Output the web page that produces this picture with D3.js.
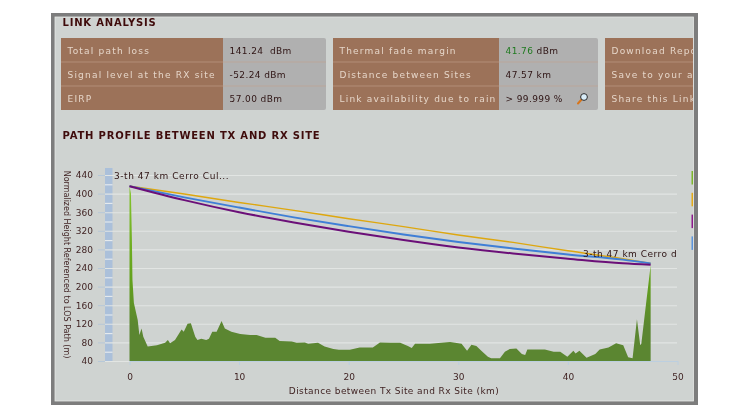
<!DOCTYPE html>
<html>
<head>
<meta charset="utf-8">
<script src="https://cdn.jsdelivr.net/npm/d3@7"></script>
<style>
  html, body { margin: 0; padding: 0; background: #fff; }
  svg { display: block; filter: blur( 0.35px ); }
  text { font-family: "DejaVu Sans", Verdana, sans-serif; }
</style>
</head>
<body>
<svg id="chart" width="750" height="420"></svg>
<script>
// Ground profile.
const terrainKm = [ 0, 0.13, 0.22, 0.27, 0.4, 0.75, 0.9, 1.1, 1.26, 1.66, 2.0, 2.5, 3.25, 3.5, 3.7, 4.15, 4.75, 4.95, 5.3, 5.6, 6.0, 6.2, 6.55, 7.0, 7.25, 7.55, 7.95, 8.4, 8.7, 9.3, 10.1, 11.0, 11.6, 12.4, 13.3, 13.7, 14.8, 15.25, 16, 16.3, 17.2, 17.8, 18.6, 19.1, 20.1, 21, 22.2, 22.85, 23.8, 24.7, 25.4, 25.75, 26.05, 27.4, 29.25, 30.3, 30.8, 31.2, 31.65, 32.1, 32.7, 33, 33.8, 34.25, 34.7, 35.3, 35.8, 36.1, 36.3, 37.9, 38.7, 39.3, 39.95, 40.5, 40.7, 41.05, 41.7, 42.5, 42.9, 43.7, 44.4, 45.05, 45.5, 45.9, 46.3, 46.6, 46.7, 46.95, 47.1, 47.55 ];
const terrainM  = [ 416, 400, 300, 214, 165, 128, 96, 110, 92, 71, 72, 74, 79, 85, 78, 85, 108, 103, 120, 121, 92, 85, 88, 85, 88, 103, 103, 126, 110, 103, 98, 96, 96, 90, 90, 83, 82, 79, 80, 77, 79, 71, 66, 64, 64, 69, 69, 80, 79, 79, 72, 68, 77, 77, 81, 77, 62, 75, 72, 62, 49, 46, 46, 60, 66, 67, 55, 53, 65, 65, 60, 60, 49, 62, 56, 62, 47, 55, 65, 69, 78, 74, 48, 46, 130, 74, 77, 127, 157, 246 ];

// Radio path lines.
const lineKm    = [ 0, 5, 10, 15, 20, 25, 30, 35, 40, 45, 47.55 ];
const lineOfSight = [ 416, 399, 381, 364, 346, 329, 311, 295, 277, 260, 250 ];
const fresnelOne  = [ 416, 392, 370, 349, 330, 312, 296, 282, 269, 258, 250 ];
const fresnelTwo  = [ 416, 386, 360, 338, 318, 300, 284, 271, 260, 250, 247 ];

// Axis ticks.
const xTicks = [ 0, 10, 20, 30, 40, 50 ];
const yTicks = [ 40, 80, 120, 160, 200, 240, 280, 320, 360, 400, 440 ];
const yMinorTicks = [ 60, 100, 140, 180, 220, 260, 300, 340, 380, 420 ];

// The three boxes above the chart.
const box1Labels = [ 'Total path loss', 'Signal level at the RX site', 'EIRP' ];
const box1Values = [ '141.24  dBm', '-52.24 dBm', '57.00 dBm' ];
const box2Labels = [ 'Thermal fade margin', 'Distance between Sites', 'Link availability due to rain' ];
const box2Values = [ ' dBm', '47.57 km', '> 99.999 %' ];
const box3Labels = [ 'Download Report', 'Save to your account', 'Share this Link' ];
const legendColors = [ '#7db52c', '#e3a916', '#8c1a8c', '#5b93dc' ];

const svg = d3.select( '#chart' );
const textColor = '#3d1f1f';

// Frame of the screenshot.
svg.append( 'rect' ).attr( 'x', 51 ).attr( 'y', 13 ).attr( 'width', 647 ).attr( 'height', 392 ).attr( 'fill', '#7d7d7d' );
svg.append( 'rect' ).attr( 'x', 55 ).attr( 'y', 17 ).attr( 'width', 638.5 ).attr( 'height', 384 ).attr( 'fill', '#cfd3d1' ).attr( 'stroke', '#e6e9e7' ).attr( 'stroke-width', 0.8 );

svg.append( 'defs' ).append( 'clipPath' ).attr( 'id', 'inner' )
  .append( 'rect' ).attr( 'x', 55 ).attr( 'y', 17 ).attr( 'width', 638 ).attr( 'height', 384 );

const page = svg.append( 'g' ).attr( 'clip-path', 'url(#inner)' );

// Headings.
page.append( 'text' ).attr( 'x', 62.5 ).attr( 'y', 26 ).attr( 'font-size', 10 ).attr( 'font-weight', 'bold' )
  .attr( 'letter-spacing', 0.8 ).attr( 'fill', '#3f0b0b' ).text( 'LINK ANALYSIS' );
page.append( 'text' ).attr( 'x', 62.5 ).attr( 'y', 139 ).attr( 'font-size', 10 ).attr( 'font-weight', 'bold' )
  .attr( 'letter-spacing', 0.8 ).attr( 'fill', '#3f0b0b' ).text( 'PATH PROFILE BETWEEN TX AND RX SITE' );

// Draws one brown and grey box with its three rows.
function drawBox ( x, labelWidth, width, labels, values ) {
  const g = page.append( 'g' ).attr( 'transform', `translate( ${x}, 38 )` );
  const rowY = d3.scaleBand( ).domain( d3.range( labels.length ) ).range( [ 0, 72 ] );

  g.append( 'rect' ).attr( 'width', width ).attr( 'height', 72 ).attr( 'rx', 2 ).attr( 'fill', '#b0b0b0' );
  g.append( 'rect' ).attr( 'width', labelWidth ).attr( 'height', 72 ).attr( 'fill', '#9c7259' );

  g.selectAll( 'line.sep' ).data( [ 1, 2 ] ).enter( ).append( 'line' )
    .attr( 'class', 'sep' )
    .attr( 'x1', 0 ).attr( 'x2', width )
    .attr( 'y1', d => rowY( d ) ).attr( 'y2', d => rowY( d ) )
    .attr( 'stroke', '#c2a08c' ).attr( 'stroke-opacity', 0.6 );

  g.selectAll( 'text.label' ).data( labels ).enter( ).append( 'text' )
    .attr( 'class', 'label' )
    .attr( 'x', 6.5 )
    .attr( 'y', ( d, i ) => rowY( i ) + 16 )
    .attr( 'font-size', 9 )
    .attr( 'letter-spacing', 1.2 )
    .attr( 'fill', '#e6d6c9' )
    .text( d => d );

  if ( values ) {
    g.selectAll( 'text.value' ).data( values ).enter( ).append( 'text' )
      .attr( 'class', 'value' )
      .attr( 'x', labelWidth + 6.5 )
      .attr( 'y', ( d, i ) => rowY( i ) + 16 )
      .attr( 'font-size', 9 )
      .attr( 'letter-spacing', 0.4 )
      .attr( 'fill', '#2e1414' )
      .style( 'white-space', 'pre' )
      .text( d => d );
  }
  return g;
}

drawBox( 61, 162, 265, box1Labels, box1Values );
const box2 = drawBox( 333, 166, 265, box2Labels, box2Values );
drawBox( 605, 100, 100, box3Labels, null );

// The green margin figure goes in front of its unit.
box2.select( 'text.value' ).text( null ).call( t => {
  t.append( 'tspan' ).attr( 'fill', '#1f7a1f' ).text( '41.76' );
  t.append( 'tspan' ).text( ' dBm' );
} );

// Magnifier in the rain row.
const lens = box2.append( 'g' ).attr( 'transform', 'translate( 250, 60 )' );
lens.append( 'line' ).attr( 'x1', -1 ).attr( 'y1', 1 ).attr( 'x2', -5 ).attr( 'y2', 5.5 )
  .attr( 'stroke', '#d9751a' ).attr( 'stroke-width', 2 ).attr( 'stroke-linecap', 'round' );
lens.append( 'circle' ).attr( 'cx', 1 ).attr( 'cy', -1 ).attr( 'r', 3.4 )
  .attr( 'fill', '#d8ecf8' ).attr( 'stroke', '#2a2a2a' ).attr( 'stroke-width', 1 );

// Scales of the chart.
const x = d3.scaleLinear( ).domain( [ 0, 50 ] ).range( [ 129.5, 677.5 ] );
const y = d3.scaleLinear( ).domain( [ 40, 440 ] ).range( [ 361, 175 ] );

// Light blue band on the left of the plot.
page.append( 'rect' ).attr( 'x', 105 ).attr( 'y', 168 ).attr( 'width', 7.5 ).attr( 'height', 193 ).attr( 'fill', '#abc0da' );

// Grid lines and the short ticks on the left.
const grid = page.append( 'g' ).attr( 'transform', 'translate( 105, 0 )' )
  .call( d3.axisRight( y ).tickValues( yTicks ).tickSize( 572 ).tickFormat( '' ) );
grid.select( '.domain' ).remove( );
grid.selectAll( 'line' ).attr( 'stroke', '#e2e5e3' ).attr( 'stroke-width', 1.1 );

const minor = page.append( 'g' ).attr( 'transform', 'translate( 105, 0 )' )
  .call( d3.axisRight( y ).tickValues( yMinorTicks ).tickSize( 7.5 ).tickFormat( '' ) );
minor.select( '.domain' ).remove( );
minor.selectAll( 'line' ).attr( 'stroke', '#e8ecef' ).attr( 'stroke-width', 1.1 );

const yAxis = page.append( 'g' ).attr( 'transform', 'translate( 105, 0 )' )
  .call( d3.axisLeft( y ).tickValues( yTicks ).tickSize( 7 ).tickPadding( 5 ) );
yAxis.select( '.domain' ).remove( );
yAxis.selectAll( 'line' ).attr( 'stroke', '#b7c8d8' );
yAxis.selectAll( 'text' ).attr( 'font-size', 9 ).attr( 'font-family', '"DejaVu Sans"' ).attr( 'fill', textColor );

// Terrain.
const green = svg.select( 'defs' ).append( 'linearGradient' ).attr( 'id', 'ground' )
  .attr( 'gradientUnits', 'userSpaceOnUse' )
  .attr( 'x1', 0 ).attr( 'x2', 0 ).attr( 'y1', y( 416 ) ).attr( 'y2', y( 40 ) );
green.append( 'stop' ).attr( 'offset', 0 ).attr( 'stop-color', '#84c52c' );
green.append( 'stop' ).attr( 'offset', 0.55 ).attr( 'stop-color', '#62a01c' );
green.append( 'stop' ).attr( 'offset', 0.8 ).attr( 'stop-color', '#5b8631' );
green.append( 'stop' ).attr( 'offset', 1 ).attr( 'stop-color', '#5b8631' );

const terrain = terrainKm.map( ( km, i ) => [ km, terrainM[ i ] ] );
page.append( 'path' ).datum( terrain )
  .attr( 'fill', 'url(#ground)' )
  .attr( 'd', d3.area( ).x( d => x( d[ 0 ] ) ).y0( y( 40 ) ).y1( d => y( d[ 1 ] ) ) );

// X axis.
const xAxis = page.append( 'g' ).attr( 'transform', `translate( 0, ${y( 40 )} )` )
  .call( d3.axisBottom( x ).tickValues( xTicks ).tickSize( 4 ).tickPadding( 9 ).tickSizeOuter( 0 ) );
xAxis.select( '.domain' ).attr( 'stroke', '#bccfe0' );
xAxis.selectAll( 'line' ).attr( 'stroke', '#bccfe0' );
xAxis.selectAll( 'text' ).attr( 'font-size', 9 ).attr( 'font-family', '"DejaVu Sans"' ).attr( 'fill', textColor );

// Radio path lines.
const pathLine = d3.line( ).x( d => x( d[ 0 ] ) ).y( d => y( d[ 1 ] ) ).curve( d3.curveMonotoneX );
[ [ lineOfSight, '#dea70f', 1.4 ], [ fresnelOne, '#3f7fd6', 1.9 ], [ fresnelTwo, '#6b0f78', 2 ] ].forEach( ( [ values, color, width ] ) => {
  page.append( 'path' ).datum( lineKm.map( ( km, i ) => [ km, values[ i ] ] ) )
    .attr( 'fill', 'none' )
    .attr( 'stroke', color )
    .attr( 'stroke-width', width )
    .attr( 'd', pathLine );
} );

// Site labels.
page.append( 'text' ).attr( 'x', 114 ).attr( 'y', 179 ).attr( 'font-size', 9 ).attr( 'letter-spacing', 0.55 ).attr( 'fill', '#2e1414' ).text( '3-th 47 km Cerro Cul...' );
page.append( 'text' ).attr( 'x', 583 ).attr( 'y', 257 ).attr( 'font-size', 9 ).attr( 'letter-spacing', 0.5 ).attr( 'fill', '#2e1414' ).text( '3-th 47 km Cerro d' );

// Axis titles.
page.append( 'text' ).attr( 'x', 394 ).attr( 'y', 394 ).attr( 'text-anchor', 'middle' ).attr( 'font-size', 9 )
  .attr( 'letter-spacing', 0.42 ).attr( 'fill', textColor ).text( 'Distance between Tx Site and Rx Site (km)' );
page.append( 'text' ).attr( 'transform', 'translate( 63.5, 264.5 ) rotate( 90 )' ).attr( 'text-anchor', 'middle' ).attr( 'font-size', 8 )
  .attr( 'fill', textColor ).text( 'Normalized Height Referenced to LOS Path (m)' );

// What is left of the legend at the right edge.
page.selectAll( 'rect.legend' ).data( legendColors ).enter( ).append( 'rect' )
  .attr( 'class', 'legend' )
  .attr( 'x', 691.5 )
  .attr( 'y', ( d, i ) => 171 + i * 21.8 )
  .attr( 'width', 1.5 )
  .attr( 'height', 13.5 )
  .attr( 'fill', d => d );
</script>
</body>
</html>
